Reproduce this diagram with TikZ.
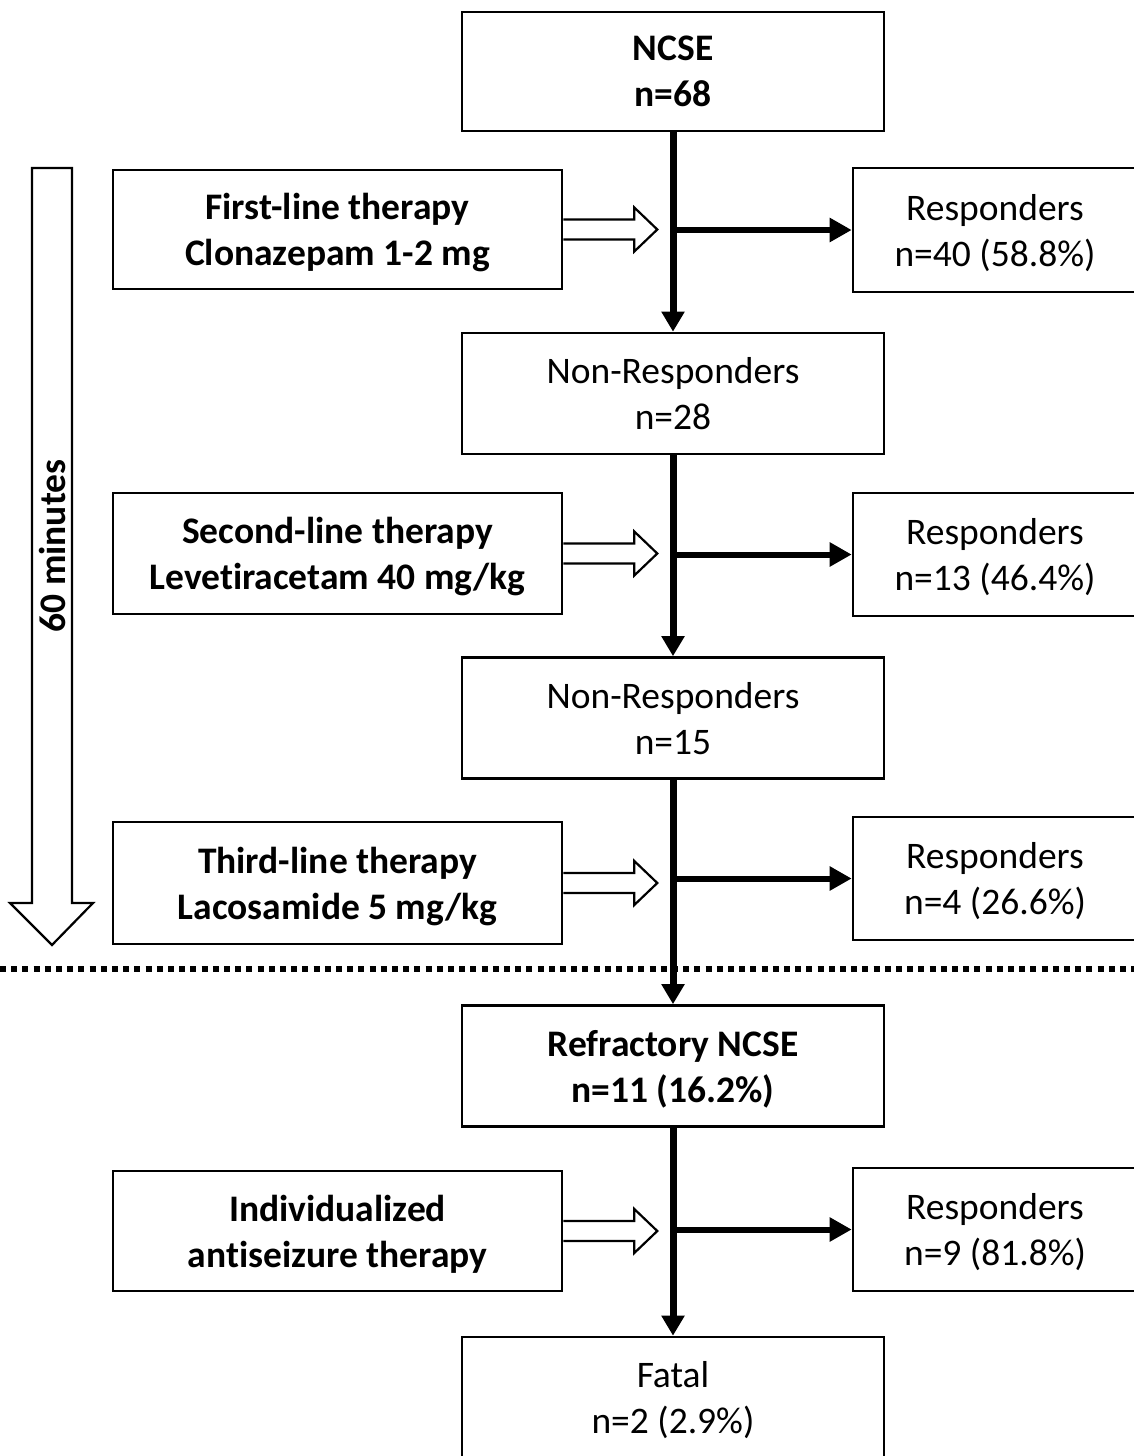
\documentclass[tikz,border=0pt]{standalone}
\usepackage{fontspec}
\setmainfont{Carlito}[Ligatures=NoCommon]
\usetikzlibrary{arrows.meta}
\begin{document}
\begin{tikzpicture}[x=1pt,y=-1pt,
  box/.style={draw,line width=2.6pt,align=center,inner sep=0pt,
    text depth=0pt,
    font=\fontsize{37.5}{46}\selectfont},
  midbox/.style={box,minimum width=422pt,minimum height=121pt},
  leftbox/.style={box,minimum width=449pt,minimum height=120pt,font=\fontsize{37.5}{46}\selectfont\bfseries},
  rightbox/.style={box,minimum width=284pt,minimum height=123pt},
  mainline/.style={line width=7pt,-{Triangle[length=20pt,width=22pt]}},
  sidearrow/.style={line width=6pt,-{Triangle[length=22pt,width=23pt]}},
  hollow/.style={draw,line width=2.2pt,line join=miter,fill=white},
  dotline/.style={line width=6pt,dash pattern=on 6pt off 5.2pt}
]
\clip (0,0) rectangle (1134,1456);
\fill[white] (0,0) rectangle (1134,1456);

% middle column
\node[midbox,font=\fontsize{37.5}{46}\selectfont\bfseries,minimum height=119pt] (ncse) at (673,71.5) {NCSE\\n=68};
\node[midbox] (nr1) at (673,393.5) {Non-Responders\\n=28};
\node[midbox] (nr2) at (673,718) {Non-Responders\\n=15};
\node[midbox,font=\fontsize{37.5}{46}\selectfont\bfseries] (refr) at (673,1066) {Refractory NCSE\\n=11 (16.2\%)};
\node[midbox,minimum height=120pt] (fatal) at (673,1397) {Fatal\\n=2 (2.9\%)};

% left column
\node[leftbox,minimum height=119pt] (l1) at (337.5,229.5) {First-line therapy\\Clonazepam 1-2 mg};
\node[leftbox,minimum height=121pt] (l2) at (337.5,553.5) {Second-line therapy\\Levetiracetam 40 mg/kg};
\node[leftbox,minimum height=122pt] (l3) at (337.5,883) {Third-line therapy\\Lacosamide 5 mg/kg};
\node[leftbox,minimum height=120pt] (l4) at (337.5,1231) {Individualized\\antiseizure therapy};

% right column
\node[rightbox,minimum height=124pt] (r1) at (995,230) {Responders\\n=40 (58.8\%)};
\node[rightbox] (r2) at (995,554.5) {Responders\\n=13 (46.4\%)};
\node[rightbox] (r3) at (995,878.5) {Responders\\n=4 (26.6\%)};
\node[rightbox] (r4) at (995,1229.5) {Responders\\n=9 (81.8\%)};

% dotted separator
\coordinate (dl) at (0,969);
\coordinate (dr) at (1134,969);
\draw[dotline] (dl) -- (dr);

% main vertical arrows
\draw[mainline] (ncse.south) -- (nr1.north);
\draw[mainline] (nr1.south) -- (nr2.north);
\draw[mainline] (nr2.south) -- (refr.north);
\draw[mainline] (refr.south) -- (fatal.north);

% side arrows to responders
\draw[sidearrow] (ncse.south |- r1.west) -- (r1.west);
\draw[sidearrow] (ncse.south |- r2.west) -- (r2.west);
\draw[sidearrow] (ncse.south |- r3.west) -- (r3.west);
\draw[sidearrow] (ncse.south |- r4.west) -- (r4.west);

% hollow arrows from therapy boxes
\foreach \b in {l1,l2,l3,l4}{
  \draw[hollow] ([yshift=10pt]\b.east) -- ++(71,0) -- ++(0,-12) -- ++(23,22)
    -- ++(-23,22) -- ++(0,-12) -- ++(-71,0);
}

% big time arrow
\draw[hollow] (32,168) -- (72,168) -- (72,903) -- (93,903) -- (52,945)
  -- (10,903) -- (32,903) -- cycle;
\node[rotate=90,font=\fontsize{37.5}{46}\selectfont\bfseries] (tm) at (52,546) {60 minutes};
\end{tikzpicture}
\end{document}
